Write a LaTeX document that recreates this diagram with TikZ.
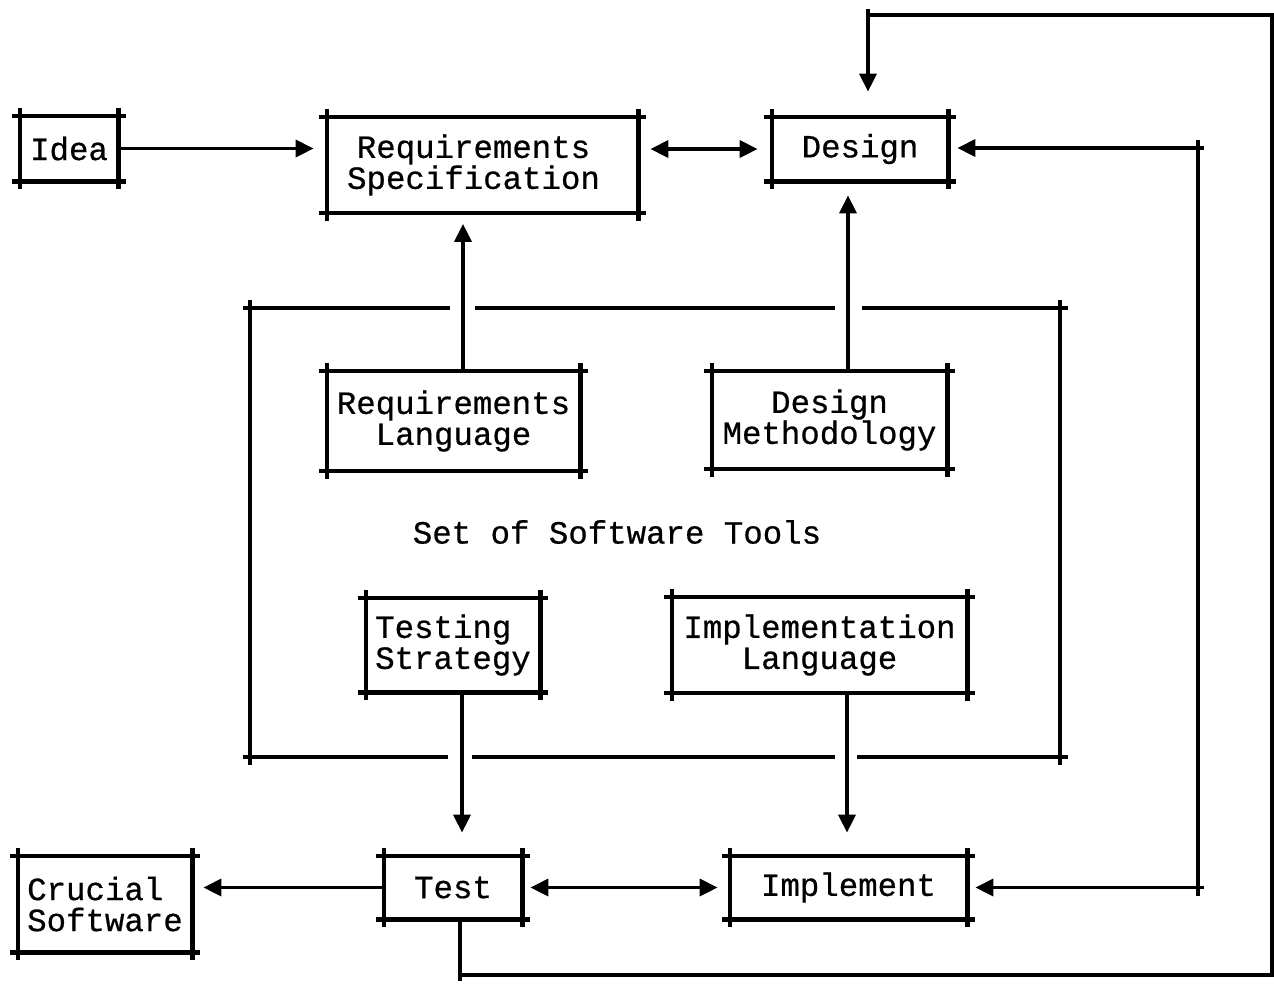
\documentclass[tikz,border=0pt]{standalone}
\usepackage{fontspec}
\setmainfont{Liberation Mono}[FakeBold=0.6]
\usetikzlibrary{arrows.meta}
\newcommand\sketchbox[1]{%
  \draw[boxline] ([xshift=-4pt]#1.north west) -- ([xshift=4pt]#1.north east)
    ([xshift=-4pt]#1.south west) -- ([xshift=4pt]#1.south east)
    ([yshift=4pt]#1.north west) -- ([yshift=-4pt]#1.south west)
    ([yshift=4pt]#1.north east) -- ([yshift=-4pt]#1.south east);}
\begin{document}
\begin{tikzpicture}[x=0.5pt,y=-0.5pt,
  bx/.style={inner sep=0pt, align=center, font=\fontsize{16.2}{15.5}\selectfont},
  lbl/.style={inner sep=0pt, font=\fontsize{16.2}{15.5}\selectfont},
  boxline/.style={line width=2.1pt},
  conn/.style={line width=1.8pt, line join=miter},
  arr/.style={conn,-{Triangle[length=9pt,width=8.5pt]}},
  darr/.style={conn,{Triangle[length=9pt,width=8.5pt]}-{Triangle[length=9pt,width=8.5pt]}},
  frameline/.style={line width=2pt}]
\useasboundingbox (0,0) rectangle (1274,993);
\fill[white] (0,0) rectangle (1274,993);

% boxes
\node[bx, minimum width=49pt, minimum height=32.5pt] (idea) at (69,148.5) {Idea};
\node[bx, minimum width=155.5pt, minimum height=47.5pt] (reqspec) at (482.5,165) {\hspace*{-9pt}Requirements\\\hspace*{-9pt}Specification};
\node[bx, minimum width=88pt, minimum height=32pt] (design) at (860,149) {Design};
\node[bx, minimum width=126.5pt, minimum height=49.5pt] (reqlang) at (453.5,421) {Requirements\\Language};
\node[bx, minimum width=117.5pt, minimum height=48.5pt] (desmeth) at (829.5,420) {Design\\Methodology};
\node[bx, align=left, minimum width=87pt, minimum height=47pt] (teststrat) at (453,645) {Testing\\Strategy};
\node[bx, minimum width=147.5pt, minimum height=47.5pt] (impllang) at (819.5,645) {Implementation\\Language};
\node[bx, align=left, minimum width=87pt, minimum height=48pt] (crucial) at (105,904) {Crucial\\Software};
\node[bx, minimum width=69pt, minimum height=31.5pt] (test) at (453,887.5) {Test};
\node[bx, minimum width=118.5pt, minimum height=31.5pt] (implement) at (848.5,887.5) {Implement};
\node[lbl] (tools) at (617,532) {Set of Software Tools};

\foreach \b in {idea,reqspec,design,reqlang,desmeth,teststrat,impllang,crucial,test,implement}{\sketchbox{\b}}

% tools frame
\draw[frameline] (243,308) -- (450,308) (475,308) -- (835,308) (862,308) -- (1068,308);
\draw[frameline] (250,300) -- (250,765) (1060,300) -- (1060,765);
\draw[frameline] (243,757) -- (448,757) (472,757) -- (835,757) (857,757) -- (1068,757);

% connectors
\draw[arr, shorten >=6.5pt] (idea.east) -- (idea.east -| reqspec.west);
\draw[darr, shorten <=6pt, shorten >=7pt] (design.west -| reqspec.east) -- (design.west);
\draw[arr, shorten >=5.5pt] ([xshift=4.75pt]reqlang.north) -- ([xshift=4.75pt]reqlang.north |- reqspec.south);
\draw[arr, shorten >=7pt] ([xshift=9.25pt]desmeth.north) -- ([xshift=9.25pt]desmeth.north |- design.south);
\draw[arr, shorten >=11.5pt] ([xshift=4.5pt]teststrat.south) -- ([xshift=4.5pt]teststrat.south |- test.north);
\draw[arr, shorten >=11.5pt] ([xshift=13.75pt]impllang.south) -- ([xshift=13.75pt]impllang.south |- implement.north);
\draw[arr, shorten >=5.5pt] (test.west) -- (test.west -| crucial.east);
\draw[darr, shorten <=4pt, shorten >=6pt] (test.east) -- (implement.west);

% long feedback loop from Test to Design
\coordinate (tl) at (868,15);
\coordinate (tr) at (1272,15);
\coordinate (br) at (1272,975);
\coordinate (bl) at (460,975);
\draw[arr, shorten >=12.5pt] ([xshift=3.5pt]test.south) -- ([xshift=3.5pt]test.south |- bl) -- (br) -- (tr) -- (tl) -- (tl |- design.north);
\draw[conn] (tl) -- ([yshift=3pt]tl);
\draw[conn] ([xshift=3.5pt]test.south |- bl) -- ([xshift=3.5pt,yshift=-3pt]test.south |- bl);

% right feedback to Design and Implement
\coordinate (rf) at (1198,148);
\draw[arr, shorten >=4.5pt] ([xshift=3pt]rf) -- (design.east |- rf);
\draw[conn] ([yshift=4pt]rf) -- ([yshift=-4pt]rf |- implement.east);
\draw[arr, shorten >=4pt] ([xshift=3pt]rf |- implement.east) -- (implement.east);
\end{tikzpicture}
\end{document}
